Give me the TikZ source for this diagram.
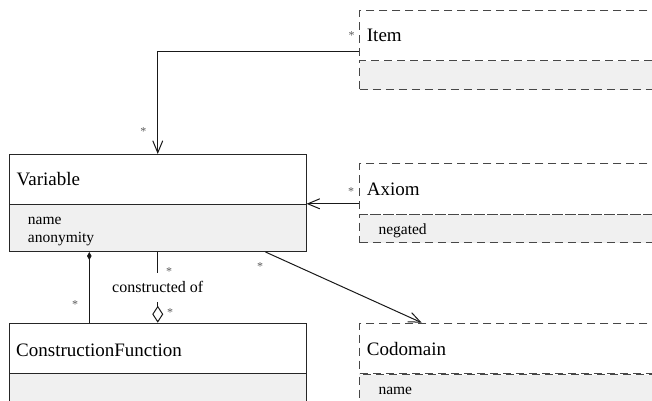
\documentclass[tikz,border=0pt]{standalone}
\usepackage{fontspec}
\setmainfont{Liberation Serif}
\usetikzlibrary{arrows.meta}
\definecolor{cmpfill}{HTML}{F0F0F0}
\begin{document}
\begin{tikzpicture}[x=1pt,y=-1pt,
  hdr/.style={draw=black!85, line width=1pt, fill=white, minimum width=296.5pt,
    minimum height=50.5pt, anchor=north west, inner sep=0pt},
  cmp/.style={draw=black!85, line width=1pt, fill=cmpfill, minimum width=296.5pt,
    anchor=north west, inner sep=0pt},
  dhdr/.style={hdr, draw=black!72, dash pattern=on 8pt off 5pt, minimum width=320pt},
  dcmp/.style={cmp, draw=black!72, dash pattern=on 8pt off 5pt, minimum width=320pt},
  title/.style={anchor=base west, inner sep=0pt, font=\fontsize{19}{20}\selectfont},
  attr/.style={anchor=base west, inner sep=0pt, font=\fontsize{15.5}{18}\selectfont},
  mult/.style={anchor=base, inner sep=0pt, text=black!65, font=\fontsize{12}{12}\selectfont},
  conn/.style={draw=black!90, line width=1pt},
  nav/.style={conn, -{Straight Barb[length=12pt,width=10pt,line width=1pt]}},
]
\useasboundingbox (0,0) rectangle (652,400);
\clip (0,0) rectangle (652,400);

% Variable
\node[hdr] (varH) at (9,154) {};
\node[cmp, minimum height=47pt] (varA) at (9,204) {};
\node[title] (varT) at (16.5,185) {Variable};
\node[attr] (varA1) at (27.7,224) {name};
\node[attr] (varA2) at (27.7,242) {anonymity};

% ConstructionFunction
\node[hdr] (cfH) at (9,322.7) {};
\node[cmp, minimum height=60pt] (cfA) at (9,373) {};
\node[title] (cfT) at (16,356) {ConstructionFunction};

% Item
\node[dhdr] (itH) at (359.3,10) {};
\node[dcmp, minimum height=29pt] (itA) at (359.3,60) {};
\node[title] (itT) at (366.7,41) {Item};

% Axiom
\node[dhdr] (axH) at (359.3,163.3) {};
\node[dcmp, minimum height=28pt] (axA) at (359.3,214) {};
\node[title] (axT) at (366.7,195.7) {Axiom};
\node[attr] (axA1) at (378.3,234) {negated};

% Codomain
\node[dhdr] (cdH) at (359.3,322.7) {};
\node[dcmp, minimum height=60pt] (cdA) at (359.3,374) {};
\node[title] (cdT) at (366.7,355.7) {Codomain};
\node[attr] (cdA1) at (378.3,394) {name};

% Item -> Variable
\coordinate (itPort) at ([yshift=10.5pt]itH.south west);
\draw[nav] (itPort) -| (varH.north);
\node[mult] (m1) at (351.5,39.5) {*};
\node[mult] (m2) at (143.3,135) {*};

% Axiom -> Variable
\coordinate (axPort) at ([yshift=11pt]axH.south west);
\draw[nav] (axPort) -- (axPort -| varH.east);
\node[mult] (m3) at (351,195.5) {*};

% Variable -> Codomain
\draw[nav] ([xshift=107.75pt]varA.south) -- ([xshift=62.4pt]cdH.north west);
\node[mult] (m4) at (260,270) {*};

% Composition
\draw[conn, {Diamond[length=8pt,width=4.5pt]}-] ([xshift=80.3pt]varA.south west) -- ([xshift=80.3pt]cfH.north west);
\node[mult] (m5) at (75,308) {*};

% Aggregation "constructed of"
\draw[conn, -{Diamond[open,length=17pt,width=11pt,line width=1pt]}] (varA.south) -- (cfH.north)
  node[midway, fill=white, inner xsep=1pt, minimum height=29pt, font=\fontsize{16}{18}\selectfont] (lbl) {constructed of};
\node[mult] (m6) at (169,275) {*};
\node[mult] (m7) at (170,316.5) {*};
\end{tikzpicture}
\end{document}
